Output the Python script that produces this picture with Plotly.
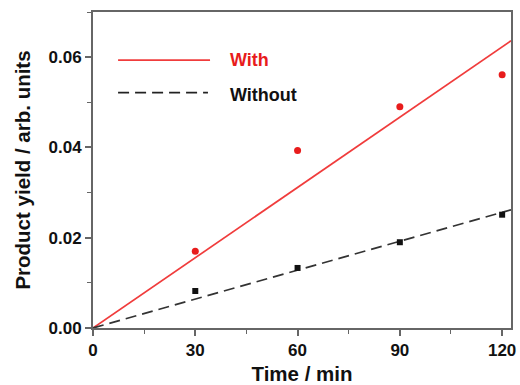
import numpy as np
import plotly.graph_objects as go

time_min = [30, 60, 90, 120]
yield_with = [0.0170, 0.0393, 0.0490, 0.0561]
yield_without = [0.0082, 0.0133, 0.0190, 0.0251]
x_ticks = [0, 30, 60, 90, 120]
y_ticks = [0.00, 0.02, 0.04, 0.06]
y_tick_labels = ["0.00", "0.02", "0.04", "0.06"]

t = np.array(time_min, float)
def slope(y):
    y = np.array(y, float)
    return float((t * y).sum() / (t * t).sum())

x_max = 122.6
fit_x = [0, x_max]
k_with = slope(yield_with)
k_without = slope(yield_without)

RED = "#f03c3c"
RED_PT = "#e81c1c"
AX = "#666666"
FONT = "Liberation Sans"

fig = go.Figure()
fig.add_trace(go.Scatter(x=fit_x, y=[k_with * v for v in fit_x], mode="lines",
                         line=dict(color=RED, width=1.7), showlegend=False))
fig.add_trace(go.Scatter(x=fit_x, y=[k_without * v for v in fit_x], mode="lines",
                         line=dict(color="#333333", width=1.7, dash="11px,6px"), showlegend=False))
fig.add_trace(go.Scatter(x=time_min, y=yield_with, mode="markers",
                         marker=dict(color=RED_PT, size=7, symbol="circle"), showlegend=False))
fig.add_trace(go.Scatter(x=time_min, y=yield_without, mode="markers",
                         marker=dict(color="#111111", size=6, symbol="square"), showlegend=False))

# legend drawn manually
fig.add_shape(type="line", xref="paper", yref="paper", x0=0.06, x1=0.28, y0=0.848, y1=0.848,
              line=dict(color=RED, width=1.7))
fig.add_shape(type="line", xref="paper", yref="paper", x0=0.06, x1=0.275, y0=0.745, y1=0.745,
              line=dict(color="#222222", width=1.7, dash="11px,6px"))
fig.add_annotation(xref="paper", yref="paper", x=0.323, y=0.848, text="<b>With</b>", showarrow=False,
                   xanchor="left", yanchor="middle", font=dict(family=FONT, size=18, color=RED_PT))
fig.add_annotation(xref="paper", yref="paper", x=0.323, y=0.738, text="<b>Without</b>", showarrow=False,
                   xanchor="left", yanchor="middle", font=dict(family=FONT, size=18, color="#111111"))

axis_common = dict(showline=True, linecolor=AX, linewidth=1.8, mirror=True, showgrid=False,
                   zeroline=False, ticks="outside", ticklen=6, tickwidth=1.6, tickcolor=AX,
                   automargin=False,
                   tickfont=dict(family=FONT, size=17, color="#111111"))

fig.update_xaxes(range=[0, x_max], tickvals=x_ticks, ticktext=[f"<b>{v}</b>" for v in x_ticks],
                 minor=dict(ticks="outside", ticklen=4, tickwidth=1.4, tickcolor=AX, dtick=15, tick0=0),
                 title=dict(text="<b>Time / min</b>", font=dict(family=FONT, size=20.5, color="#111111"), standoff=9),
                 **axis_common)
fig.update_yaxes(range=[0, 0.070], tickvals=y_ticks, ticktext=[f"<b>{v}</b>" for v in y_tick_labels],
                 minor=dict(ticks="outside", ticklen=4, tickwidth=1.4, tickcolor=AX, dtick=0.01, tick0=0),
                 title=dict(text="<b>Product yield / arb. units</b>", font=dict(family=FONT, size=20.5, color="#111111"), standoff=12),
                 **axis_common)

fig.update_layout(width=520, height=385, margin=dict(l=93, r=9, t=12, b=57),
                  plot_bgcolor="white", paper_bgcolor="white",
                  font=dict(family=FONT))
fig.write_html("out.html")
